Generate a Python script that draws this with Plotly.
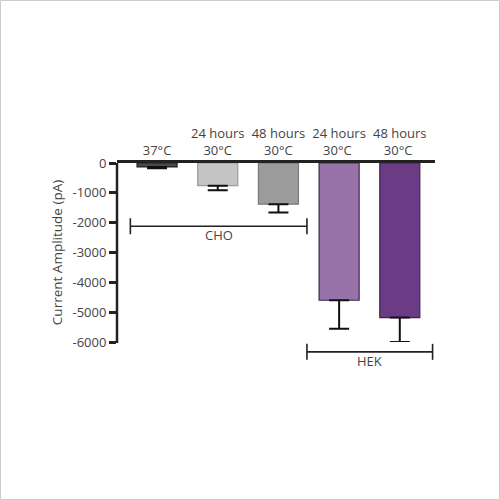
import plotly.graph_objects as go

categories = ["37°C", "24 hours<br>30°C", "48 hours<br>30°C", "24 hours<br>30°C ", "48 hours<br>30°C "]
means = [-130, -760, -1380, -4600, -5180]
errors = [50, 150, 280, 960, 820]
colors = ["#4a4a4a", "#c4c4c4", "#9c9b9c", "#9873a9", "#6b3b86"]
edge_colors = ["#222222", "#9a9a9a", "#7a7a7a", "#3a2a48", "#3a2a48"]
yticks = [0, -1000, -2000, -3000, -4000, -5000, -6000]

groups = [("CHO", -0.44, 2.47, -2120), ("HEK", 2.47, 4.54, -6330)]

L, R, T, B = 117, 65, 163, 158
PW, PH = 500 - L - R, 500 - T - B
ymin, ymax = -6000, 0
FONT = "Open Sans"

def py(v):
    return (v - ymin) / (ymax - ymin)

fig = go.Figure()
fig.add_trace(go.Bar(
    x=list(range(len(categories))), y=means, width=0.66,
    marker=dict(color=colors, line=dict(color=edge_colors, width=1.2)),
    error_y=dict(type="data", symmetric=False, array=[0]*5, arrayminus=errors,
                 color="#111111", thickness=2, width=10),
    showlegend=False,
))

shapes = []
annotations = []
cap_h = 8 / PH
for name, x0, x1, yv in groups:
    yp = py(yv)
    shapes.append(dict(type="line", xref="x", yref="paper", x0=x0, x1=x1, y0=yp, y1=yp,
                       line=dict(color="#222222", width=1.6)))
    for xx in (x0, x1):
        shapes.append(dict(type="line", xref="x", yref="paper", x0=xx, x1=xx,
                           y0=yp - cap_h, y1=yp + cap_h, line=dict(color="#222222", width=1.6)))
    annotations.append(dict(text=name, xref="x", yref="paper", x=(x0 + x1) / 2, y=yp - 9 / PH,
                            yanchor="middle", showarrow=False,
                            font=dict(size=13, color="#444444", family=FONT)))

# y axis line
shapes.append(dict(type="line", xref="paper", yref="paper", x0=0, x1=0, y0=py(-6000) - 1 / PH, y1=1,
                   line=dict(color="#222222", width=2.5)))
# outer border
shapes.append(dict(type="rect", xref="paper", yref="paper",
                   x0=(0.5 - L) / PW, x1=(499.5 - L) / PW,
                   y0=(PH + T - 499.5) / PH, y1=(PH + T - 0.5) / PH,
                   line=dict(color="#cccccc", width=1)))

fig.update_layout(
    width=500, height=500,
    margin=dict(l=L, r=R, t=T, b=B, autoexpand=False),
    paper_bgcolor="white", plot_bgcolor="white",
    font=dict(family=FONT, size=13, color="#444444"),
    xaxis=dict(side="top", tickmode="array", tickvals=list(range(5)), ticktext=categories,
               range=[-0.66, 4.58], showline=True, linecolor="#222222", linewidth=2.5,
               ticks="", showgrid=False, zeroline=False, fixedrange=True, automargin=False,
               tickfont=dict(size=13, color="#444444")),
    yaxis=dict(range=[ymin, ymax], tickmode="array", tickvals=yticks, automargin=False,
               ticktext=[str(v) for v in yticks], ticks="outside", ticklen=7, tickwidth=2.5,
               tickcolor="#222222", showline=False, showgrid=False, zeroline=False,
               title=dict(text="Current Amplitude (pA)", font=dict(size=13.5, color="#444444"), standoff=6),
               tickfont=dict(size=13, color="#444444")),
    shapes=shapes, annotations=annotations,
)

fig.write_html("out.html", config={"displayModeBar": False},
               post_script="document.body.style.margin='0';document.body.style.overflow='hidden';")
